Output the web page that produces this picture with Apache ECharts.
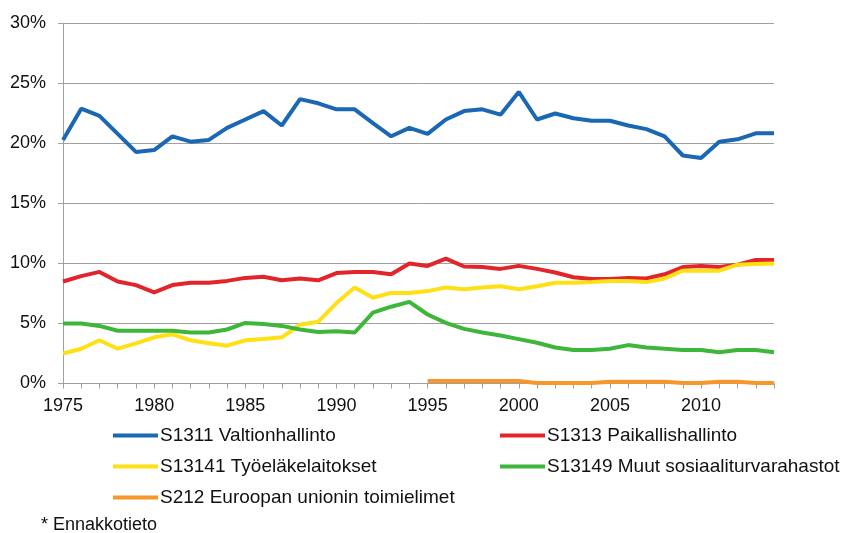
<!DOCTYPE html>
<html>
<head>
<meta charset="utf-8">
<script src="https://cdn.jsdelivr.net/npm/echarts@6/dist/echarts.min.js"></script>
<style>
  html, body { margin: 0; padding: 0; background: #fff; }
  #chart { width: 843px; height: 533px; }
</style>
</head>
<body>
<div id="chart"></div>
<script>
// vuodet 1975-2014
const years = [];
for (let y = 1975; y <= 2014; y++) years.push(String(y));

const names = [
  "S1311 Valtionhallinto",
  "S1313 Paikallishallinto",
  "S13141 Työeläkelaitokset",
  "S13149 Muut sosiaaliturvarahastot",
  "S212 Euroopan unionin toimielimet"
];

const valtio = [20.3, 22.9, 22.3, 20.8, 19.3, 19.45, 20.6, 20.15, 20.3, 21.3,
  22.0, 22.7, 21.5, 23.7, 23.35, 22.85, 22.85, 21.7, 20.6, 21.3,
  20.8, 22.0, 22.7, 22.85, 22.4, 24.3, 22.0, 22.5, 22.1, 21.9,
  21.9, 21.5, 21.2, 20.6, 19.0, 18.8, 20.15, 20.35, 20.85, 20.85];

const paikallis = [8.5, 8.95, 9.3, 8.5, 8.2, 7.6, 8.2, 8.4, 8.4, 8.55,
  8.8, 8.9, 8.6, 8.75, 8.6, 9.2, 9.3, 9.3, 9.1, 10.0,
  9.8, 10.4, 9.75, 9.7, 9.55, 9.8, 9.55, 9.25, 8.85, 8.7,
  8.7, 8.8, 8.75, 9.1, 9.7, 9.8, 9.7, 9.9, 10.3, 10.3];

const tyoelake = [2.5, 2.9, 3.6, 2.9, 3.35, 3.85, 4.1, 3.6, 3.35, 3.15,
  3.6, 3.7, 3.85, 4.9, 5.15, 6.7, 8.0, 7.15, 7.55, 7.55,
  7.7, 8.0, 7.85, 8.0, 8.1, 7.85, 8.1, 8.4, 8.4, 8.45,
  8.55, 8.55, 8.45, 8.75, 9.4, 9.4, 9.4, 9.9, 9.95, 10.0];

const muut = [5.0, 5.0, 4.8, 4.4, 4.4, 4.4, 4.4, 4.25, 4.25, 4.5,
  5.05, 4.95, 4.8, 4.5, 4.3, 4.35, 4.25, 5.9, 6.4, 6.8,
  5.75, 5.05, 4.55, 4.25, 4.0, 3.7, 3.4, 3.0, 2.8, 2.8,
  2.9, 3.2, 3.0, 2.9, 2.8, 2.8, 2.6, 2.8, 2.8, 2.6];

const eu = [null, null, null, null, null, null, null, null, null, null,
  null, null, null, null, null, null, null, null, null, null,
  0.2, 0.2, 0.2, 0.2, 0.2, 0.2, 0.05, 0.05, 0.05, 0.05,
  0.15, 0.15, 0.15, 0.15, 0.05, 0.05, 0.15, 0.15, 0.05, 0.05];

const colors = ["#1a68b3", "#e2252b", "#ffe014", "#3db63a", "#f7962b"];
const font = "'Liberation Sans', Arial, sans-serif";

function makeSeries(i, data) {
  return {
    name: names[i],
    type: "line",
    data: data,
    showSymbol: false,
    symbol: "none",
    lineStyle: { width: 4, color: colors[i] },
    itemStyle: { color: colors[i] }
  };
}

function makeLegend(i, left, top) {
  return {
    data: [names[i]],
    left: left,
    top: top,
    padding: 0,
    icon: "rect",
    itemWidth: 45,
    itemHeight: 4,
    textStyle: { fontSize: 19, fontFamily: font, color: "#111", padding: [0, 0, 0, -3] }
  };
}

const chart = echarts.init(document.getElementById("chart"));
chart.setOption({
  animation: false,
  color: colors,
  grid: { left: 63, right: 69, top: 23.5, bottom: 149.5 },
  legend: [
    makeLegend(0, 113, 426),
    makeLegend(1, 500, 426),
    makeLegend(2, 113, 457),
    makeLegend(3, 500, 457),
    makeLegend(4, 113, 488)
  ],
  graphic: [{
    type: "text",
    left: 41,
    top: 516,
    style: { text: "* Ennakkotieto", fontSize: 18, fontFamily: font, fill: "#111" }
  }],
  xAxis: {
    type: "category",
    data: years,
    boundaryGap: false,
    axisLine: { lineStyle: { color: "#a0a0a0", width: 1 } },
    axisTick: { interval: 0, length: 5, lineStyle: { color: "#a0a0a0" } },
    axisLabel: { interval: 4, margin: 14, fontSize: 18, fontFamily: font, color: "#111" },
    splitLine: { show: false }
  },
  yAxis: {
    type: "value",
    min: 0,
    max: 30,
    interval: 5,
    axisLine: { show: true, lineStyle: { color: "#a0a0a0", width: 1 } },
    axisTick: { show: true, length: 5, lineStyle: { color: "#a0a0a0" } },
    axisLabel: { formatter: "{value}%", margin: 17, fontSize: 18, fontFamily: font, color: "#111" },
    splitLine: { lineStyle: { color: "#a0a0a0", width: 1 } }
  },
  series: [
    makeSeries(0, valtio),
    makeSeries(1, paikallis),
    makeSeries(2, tyoelake),
    makeSeries(3, muut),
    makeSeries(4, eu)
  ]
});
</script>
</body>
</html>
